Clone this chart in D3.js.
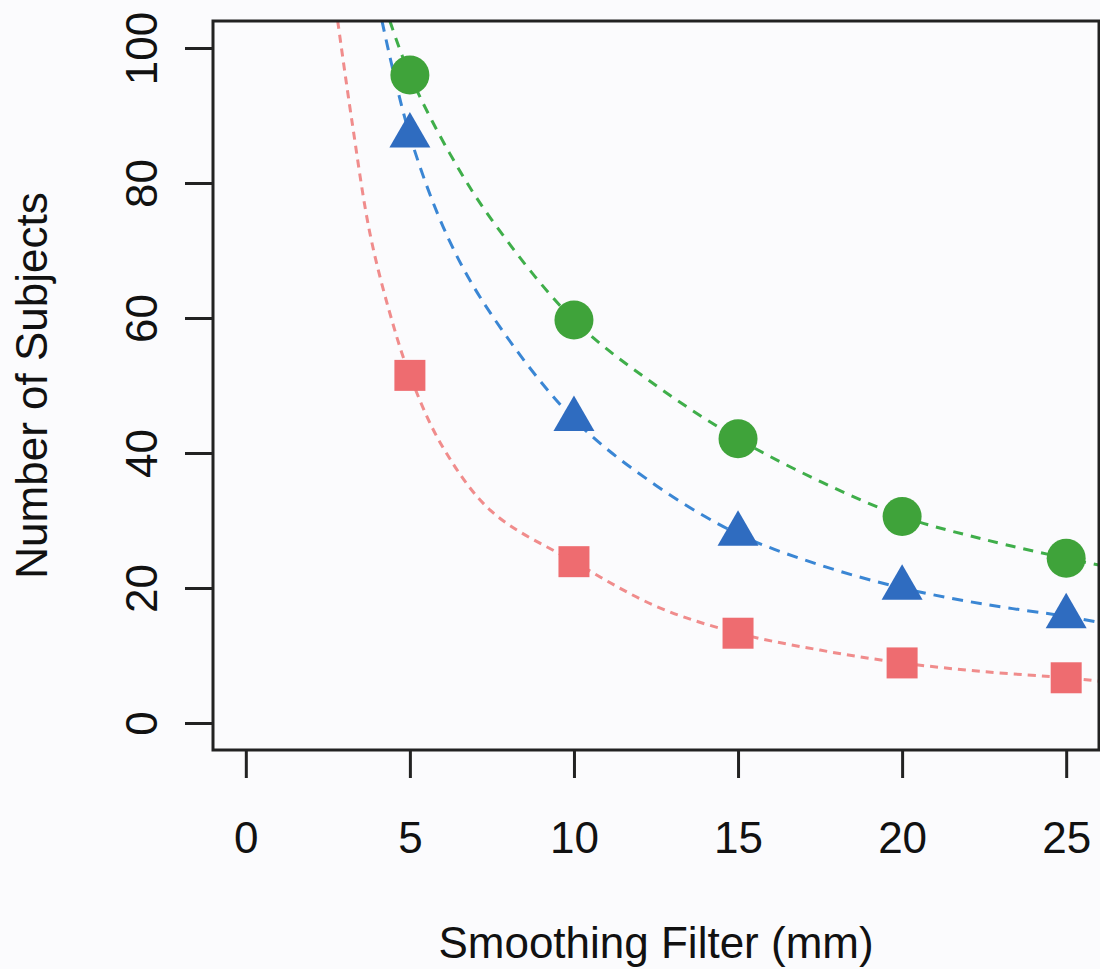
<!DOCTYPE html>
<html>
<head>
<meta charset="utf-8">
<script src="https://cdn.jsdelivr.net/npm/d3@7"></script>
<style>
  html, body { margin: 0; padding: 0; background: #fbfbfd; }
  svg { display: block; font-family: "Liberation Sans", Arial, sans-serif; }
</style>
</head>
<body>
<div class="vis"></div>
<script>
// filter sizes (mm)
const filters = [5, 10, 15, 20, 25];

// observed counts
const greenValues = [96, 59.7, 42.1, 30.6, 24.4];
const blueValues = [87, 45, 28, 20, 15.8];
const redValues = [51.5, 23.9, 13.3, 8.9, 6.7];

// fitted curves as [x, y]
const greenCurve = [[4.39, 104], [5, 96], [6.2, 84.5], [7.5, 74.5], [10, 59.7], [12.5, 50], [15, 42.1],
  [17.5, 35.8], [20, 30.6], [22.5, 27.2], [25, 24.4], [26, 23.4]];
const blueCurve = [[4.15, 104], [5, 87], [6.2, 71.5], [7.5, 60.4], [10, 45], [12.5, 35.2], [15, 28],
  [17.5, 23.4], [20, 20], [22.5, 17.6], [25, 15.8], [26, 14.9]];
const redCurve = [[2.8, 104], [3.23, 89.3], [3.78, 72.6], [4.39, 60.7], [5, 51.5], [6, 40.9], [7.5, 31.3],
  [10, 23.9], [12.5, 17.3], [15, 13.3], [17.5, 10.8], [20, 8.9], [22.5, 7.6], [25, 6.7], [26, 6.2]];

const xTicks = [0, 5, 10, 15, 20, 25];
const yTicks = [0, 20, 40, 60, 80, 100];

const series = [
  {name: 'red', values: redValues, curve: redCurve, line: '#f08c8c', fill: '#ee6c70', dash: '8,6', shape: 'square'},
  {name: 'blue', values: blueValues, curve: blueCurve, line: '#3a86d4', fill: '#2f6cc0', dash: '11,8', shape: 'triangle'},
  {name: 'green', values: greenValues, curve: greenCurve, line: '#3fae4a', fill: '#3fa33a', dash: '10,8', shape: 'circle'}
];

const outerWidth = 1100, outerHeight = 969;
const margin = {top: 21, right: 1, bottom: 219, left: 213};
const width = outerWidth - margin.left - margin.right;
const height = outerHeight - margin.top - margin.bottom;

const svg = d3.select('.vis').append('svg')
    .attr('width', outerWidth)
    .attr('height', outerHeight)
    .append('g')
    .attr('transform', 'translate(' + margin.left + ',' + margin.top + ')');

// R-style 4% padding around the data range
const x = d3.scaleLinear().domain([-1, 26]).range([0, width]);
const y = d3.scaleLinear().domain([-4, 104]).range([height, 0]);

svg.append('clipPath').attr('id', 'plot-clip')
    .append('rect').attr('width', width).attr('height', height);

const line = d3.line()
    .x(d => x(d[0]))
    .y(d => y(d[1]))
    .curve(d3.curveCatmullRom.alpha(0.5));

const plot = svg.append('g').attr('clip-path', 'url(#plot-clip)');

plot.selectAll('.fit')
    .data(series)
    .enter().append('path')
    .attr('class', 'fit')
    .attr('fill', 'none')
    .attr('stroke', d => d.line)
    .attr('stroke-width', 3)
    .attr('stroke-dasharray', d => d.dash)
    .attr('d', d => line(d.curve));

const symbolFor = {
  circle: d3.symbol(d3.symbolCircle, 19.5 * 19.5 * Math.PI),
  square: d3.symbol(d3.symbolSquare, 31 * 31),
  triangle: d3.symbol(d3.symbolTriangle, 40 * 40 * Math.sqrt(3) / 4 * 1.05)
};

series.forEach(s => {
  plot.selectAll('.pt-' + s.name)
      .data(s.values.map((v, i) => [filters[i], v]))
      .enter().append('path')
      .attr('class', 'pt-' + s.name)
      .attr('transform', d => 'translate(' + x(d[0]) + ',' + y(d[1]) + ')')
      .attr('fill', s.fill)
      .attr('d', symbolFor[s.shape]());
});

// box
svg.append('rect')
    .attr('width', width).attr('height', height)
    .attr('fill', 'none').attr('stroke', '#222').attr('stroke-width', 3);

// x axis
const xAxis = svg.append('g')
    .attr('transform', 'translate(0,' + height + ')')
    .call(d3.axisBottom(x).tickValues(xTicks).tickSize(28).tickPadding(0).tickFormat(d3.format('d')));
xAxis.select('.domain').remove();
xAxis.selectAll('line').attr('stroke', '#222').attr('stroke-width', 3);
xAxis.selectAll('text')
    .attr('fill', '#111')
    .attr('font-size', 44)
    .attr('dy', null)
    .attr('y', 103);

// y axis
const yAxis = svg.append('g')
    .call(d3.axisLeft(y).tickValues(yTicks).tickSize(28).tickFormat(d3.format('d')));
yAxis.select('.domain').remove();
yAxis.selectAll('line').attr('stroke', '#222').attr('stroke-width', 3);
yAxis.selectAll('text')
    .attr('fill', '#111')
    .attr('font-size', 44)
    .attr('x', null).attr('dy', null)
    .attr('text-anchor', 'middle')
    .attr('transform', 'translate(-56,0) rotate(-90)');

// axis titles
svg.append('text')
    .attr('x', width / 2)
    .attr('y', 958 - margin.top)
    .attr('text-anchor', 'middle')
    .attr('font-size', 44)
    .attr('fill', '#111')
    .text('Smoothing Filter (mm)');

svg.append('text')
    .attr('transform', 'translate(' + (47 - margin.left) + ',' + (height / 2) + ') rotate(-90)')
    .attr('text-anchor', 'middle')
    .attr('font-size', 44)
    .attr('fill', '#111')
    .text('Number of Subjects');
</script>
</body>
</html>
